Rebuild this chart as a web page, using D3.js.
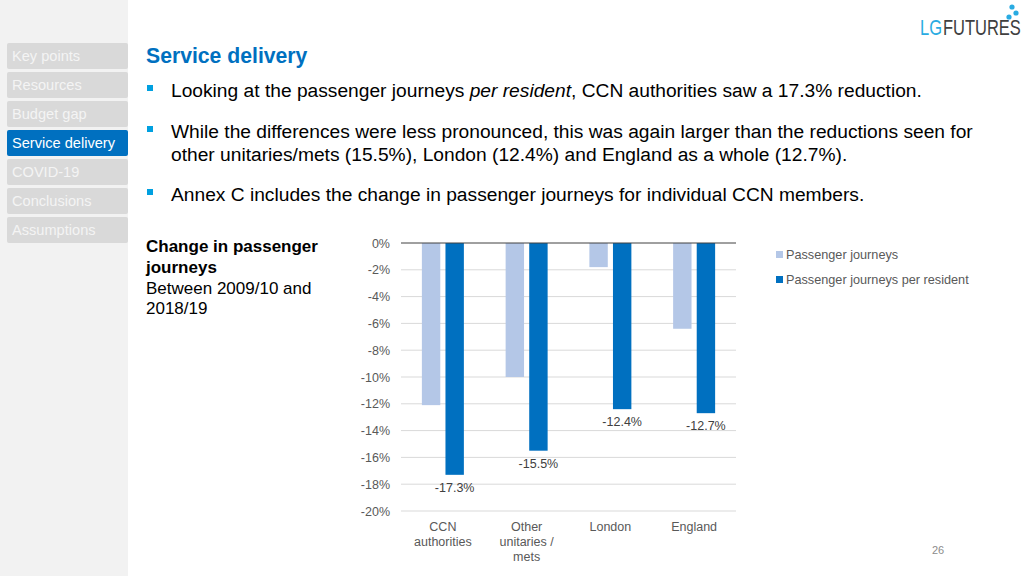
<!DOCTYPE html>
<html>
<head>
<meta charset="utf-8">
<script src="https://cdn.jsdelivr.net/npm/d3@7"></script>
<style>
html,body{margin:0;padding:0;background:#fff;}
svg{display:block;font-family:"Liberation Sans",Arial,sans-serif;}
</style>
</head>
<body>
<svg id="chart" width="1024" height="576"></svg>
<script>
const categories = [["CCN","authorities"],["Other","unitaries /","mets"],["London"],["England"]];
const seriesNames = ["Passenger journeys","Passenger journeys per resident"];
const journeys = [-12.1, -10.0, -1.8, -6.4];
const perResident = [-17.3, -15.5, -12.4, -12.7];
const yTicks = [0,-2,-4,-6,-8,-10,-12,-14,-16,-18,-20];
const navItems = ["Key points","Resources","Budget gap","Service delivery","COVID-19","Conclusions","Assumptions"];
const activeNav = "Service delivery";
const colors = ["#b4c7e7","#0070c0"];

const svg = d3.select("#chart");

// sidebar
svg.append("rect").attr("x",0).attr("y",0).attr("width",128).attr("height",576).attr("fill","#f2f2f2");
navItems.forEach((t,i)=>{
  const y = 43 + i*29;
  const active = t===activeNav;
  svg.append("rect").attr("x",7).attr("y",y).attr("width",121).attr("height",26).attr("rx",2)
    .attr("fill",active?"#0070c0":"#d9d9d9");
  svg.append("text").attr("x",12).attr("y",y+18).attr("font-size",14.6)
    .attr("fill",active?"#ffffff":"#f4f4f4").text(t);
});

// logo
const logoG = svg.append("g").attr("transform","translate(920,35) scale(1,1.3)");
logoG.append("text").attr("x",0).attr("y",0).attr("font-size",16.5).attr("fill","#29abe2").text("LG");
logoG.append("text").attr("x",23).attr("y",0).attr("font-size",16.5).attr("fill","#404040").text("FUTURES");
[[1012,7],[1016,13],[1009,17]].forEach(p=>{
  svg.append("circle").attr("cx",p[0]).attr("cy",p[1]).attr("r",2.6).attr("fill","#29abe2");
});

// title
svg.append("text").attr("x",146).attr("y",63).attr("font-size",21.2).attr("font-weight","bold")
  .attr("fill","#0070c0").text("Service delivery");

// bullets
const bfs = 19.2;
function bullet(y){
  svg.append("rect").attr("x",147).attr("y",y-12).attr("width",6).attr("height",6).attr("fill","#00a0e0");
}
bullet(97);
const t1 = svg.append("text").attr("x",171).attr("y",97).attr("font-size",bfs).attr("fill","#000");
t1.append("tspan").text("Looking at the passenger journeys ");
t1.append("tspan").attr("font-style","italic").text("per resident");
t1.append("tspan").text(", CCN authorities saw a 17.3% reduction.");
bullet(138);
svg.append("text").attr("x",171).attr("y",138).attr("font-size",bfs).text("While the differences were less pronounced, this was again larger than the reductions seen for");
svg.append("text").attr("x",171).attr("y",161).attr("font-size",bfs).text("other unitaries/mets (15.5%), London (12.4%) and England as a whole (12.7%).");
bullet(201);
svg.append("text").attr("x",171).attr("y",201).attr("font-size",bfs).text("Annex C includes the change in passenger journeys for individual CCN members.");

// chart caption
svg.append("text").attr("x",146).attr("y",252).attr("font-size",17).attr("font-weight","bold").text("Change in passenger");
svg.append("text").attr("x",146).attr("y",273).attr("font-size",17).attr("font-weight","bold").text("journeys");
svg.append("text").attr("x",146).attr("y",294).attr("font-size",17).text("Between 2009/10 and");
svg.append("text").attr("x",146).attr("y",314).attr("font-size",17).text("2018/19");

// chart
const x0 = 401, x1 = 736;
const y = d3.scaleLinear().domain([-20,0]).range([511,243]);
const x = d3.scaleBand().domain(categories.map((c,i)=>i)).range([x0,x1]).paddingInner(0).paddingOuter(0);
const xs = d3.scaleBand().domain([0,1]).range([x.bandwidth()/2-21, x.bandwidth()/2+21]).paddingInner(0.22);

const yAxis = d3.axisLeft(y).tickValues(yTicks).tickFormat(d=>d+"%").tickSize(0).tickPadding(11);
const gy = svg.append("g").attr("transform",`translate(${x0},0)`).call(yAxis);
gy.select(".domain").remove();
gy.selectAll("text").attr("font-size",12.5).attr("fill","#595959").attr("font-family","Liberation Sans, Arial, sans-serif");

svg.append("g").selectAll("line").data(yTicks.filter(d=>d!==0)).join("line")
  .attr("x1",x0).attr("x2",x1).attr("y1",d=>y(d)).attr("y2",d=>y(d))
  .attr("stroke","#d9d9d9").attr("stroke-width",1);

const data = categories.map((c,i)=>({i, vals:[journeys[i], perResident[i]]}));
const groups = svg.append("g").selectAll("g").data(data).join("g")
  .attr("transform",d=>`translate(${x(d.i)},0)`);
groups.selectAll("rect").data(d=>d.vals.map((v,k)=>({v,k}))).join("rect")
  .attr("x",d=>xs(d.k)).attr("width",xs.bandwidth())
  .attr("y",y(0)).attr("height",d=>y(d.v)-y(0))
  .attr("fill",d=>colors[d.k]);
groups.append("text")
  .attr("x",xs(1)+xs.bandwidth()/2)
  .attr("y",d=>y(d.vals[1])+17)
  .attr("text-anchor","middle").attr("font-size",12.5).attr("fill","#404040")
  .text(d=>d.vals[1].toFixed(1)+"%");

// zero line
svg.append("line").attr("x1",x0).attr("x2",x1).attr("y1",y(0)).attr("y2",y(0)).attr("stroke","#404040").attr("stroke-width",1);

// x labels
categories.forEach((c,i)=>{
  c.forEach((line,j)=>{
    svg.append("text").attr("x",x(i)+x.bandwidth()/2).attr("y",531+j*15)
      .attr("text-anchor","middle").attr("font-size",12.5).attr("fill","#595959").text(line);
  });
});

// legend
seriesNames.forEach((n,k)=>{
  const ly = 255 + k*25;
  svg.append("rect").attr("x",776).attr("y",ly-4).attr("width",7).attr("height",7).attr("fill",colors[k]);
  svg.append("text").attr("x",786).attr("y",ly+4).attr("font-size",12.7).attr("fill","#595959").text(n);
});

// page number
svg.append("text").attr("x",938).attr("y",554).attr("font-size",11).attr("fill","#8c8c8c").attr("text-anchor","middle").text("26");
</script>
</body>
</html>
